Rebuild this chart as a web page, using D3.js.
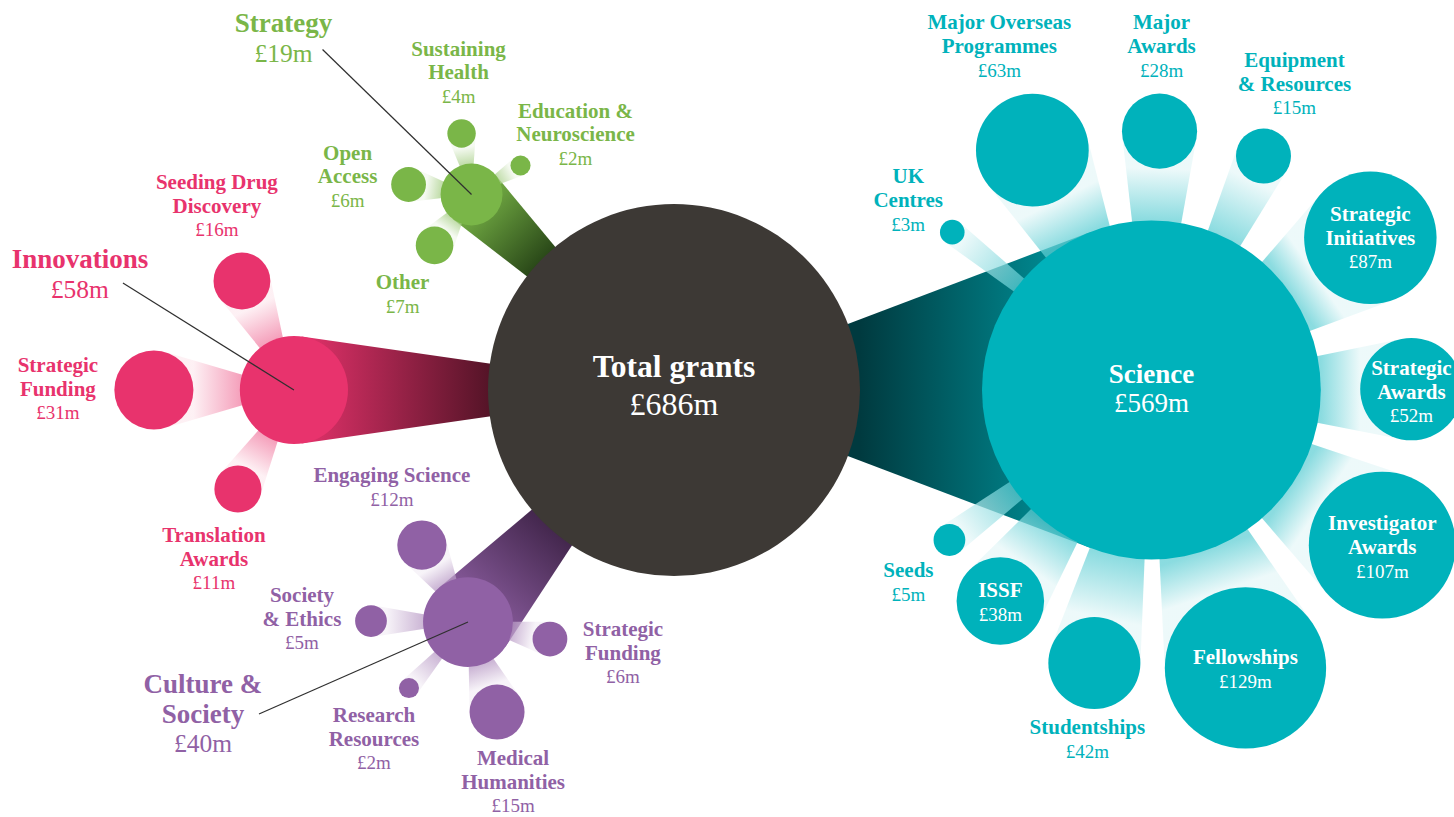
<!DOCTYPE html>
<head>
    <meta charset="utf-8">
    <title>Total grants</title>
    <script src="https://d3js.org/d3.v7.min.js"></script>
</head>
<style>
body {
  margin: 0;
  background: #fff;
  font-family: "Liberation Serif", "DejaVu Serif", serif;
}
</style>
<body>
    <svg></svg>
</body>

<script>

    // Data (£m)
    var totalLabel = "Total grants";
    var totalValue = 686;

    var categories = ["Science", "Innovations", "Strategy", "Culture &\nSociety"];
    var categoryValues = [569, 58, 19, 40];

    var scienceNames = ["Major Overseas\nProgrammes", "Major\nAwards", "Equipment\n& Resources", "Strategic\nInitiatives",
        "Strategic\nAwards", "Investigator\nAwards", "Fellowships", "Studentships", "ISSF", "Seeds", "UK\nCentres"];
    var scienceValues = [63, 28, 15, 87, 52, 107, 129, 42, 38, 5, 3];

    var innovationsNames = ["Strategic\nFunding", "Seeding Drug\nDiscovery", "Translation\nAwards"];
    var innovationsValues = [31, 16, 11];

    var strategyNames = ["Sustaining\nHealth", "Education &\nNeuroscience", "Open\nAccess", "Other"];
    var strategyValues = [4, 2, 6, 7];

    var cultureNames = ["Engaging Science", "Society\n& Ethics", "Research\nResources", "Medical\nHumanities", "Strategic\nFunding"];
    var cultureValues = [12, 5, 2, 15, 6];

    // Styling
    var categoryColors = ["#00b2bb", "#e8336d", "#7ab648", "#9061a5"];
    var categoryDark = ["#003a3f", "#561428", "#2b4a19", "#45284f"];
    var totalColor = "#3d3935";

    // Layout: direction from the parent (degrees), gap between the circles, label offset from the centre
    var categoryLayout = [
        {angle: 0, gap: 122, lx: 0, ly: -7, inside: true},
        {angle: 180, gap: 140, lx: -214, ly: -122, leader: [-171, -107]},
        {angle: -136, gap: 64.5, lx: -188, ly: -162, leader: [-149, -145]},
        {angle: 131.6, gap: 79.4, lx: -265, ly: 71, leader: [-209, 92]}
    ];
    var childLayout = [
        [ // Science
            {angle: -116.4, gap: 42, lx: -33, ly: -121},
            {angle: -88.2, gap: 52, lx: 2, ly: -102},
            {angle: -64.4, gap: 62.5, lx: 31, ly: -89},
            {angle: -34.8, gap: 31, lx: 0, ly: -17, inside: true},
            {angle: -0.2, gap: 39.4, lx: 0, ly: -14, inside: true},
            {angle: 33.9, gap: 35.3, lx: 0, ly: -15, inside: true},
            {angle: 71.3, gap: 43.4, lx: 0, ly: -4, inside: true},
            {angle: 101.8, gap: 63.5, lx: -7, ly: 71},
            {angle: 125.6, gap: 46.3, lx: 0, ly: -4, inside: true},
            {angle: 143.4, gap: 66.3, lx: -41, ly: 37},
            {angle: -141.6, gap: 72.4, lx: -44, ly: -49}
        ],
        [ // Innovations
            {angle: 180, gap: 46.4, lx: -96, ly: -18},
            {angle: -115.5, gap: 38.3, lx: -25, ly: -92},
            {angle: 119.5, gap: 36.1, lx: -24, ly: 53}
        ],
        [ // Strategy
            {angle: -99.3, gap: 16.6, lx: -3, ly: -78},
            {angle: -30.6, gap: 15.9, lx: 55, ly: -48},
            {angle: -171, gap: 15.4, lx: -61, ly: -25},
            {angle: 126, gap: 13.2, lx: -32, ly: 44}
        ],
        [ // Culture & Society
            {angle: -120.9, gap: 20.2, lx: -30, ly: -63},
            {angle: 180.6, gap: 36.2, lx: -69, ly: -19},
            {angle: 131.8, gap: 33.6, lx: -35, ly: 34},
            {angle: 72.1, gap: 22.2, lx: 16, ly: 53},
            {angle: 11.7, gap: 21.4, lx: 73, ly: -3}
        ]
    ];

    var childNames = [scienceNames, innovationsNames, strategyNames, cultureNames];
    var childValues = [scienceValues, innovationsValues, strategyValues, cultureValues];

    var width = 1454;
    var height = 817;

    var svg = d3.select('svg')
        .attr('width', width)
        .attr('height', height);
    var defs = svg.append('defs');

    // Circle area is proportional to the value
    var r = d3.scaleSqrt().domain([0, totalValue]).range([0, 186]);

    var root = {x: 674, y: 390, r: r(totalValue)};

    function place(parent, value, lay) {
        var a = lay.angle * Math.PI / 180;
        var rc = r(value);
        var d = parent.r + lay.gap + rc;
        return {x: parent.x + d * Math.cos(a), y: parent.y + d * Math.sin(a), r: rc, value: value, lay: lay};
    }

    // Build the nodes
    var cats = categories.map(function (name, i) {
        var c = place(root, categoryValues[i], categoryLayout[i]);
        c.name = name;
        c.color = categoryColors[i];
        c.dark = categoryDark[i];
        c.children = childNames[i].map(function (n, j) {
            var k = place(c, childValues[i][j], childLayout[i][j]);
            k.name = n;
            return k;
        });
        return c;
    });

    // Wedge from the parent centre to the tangents of the child circle
    function wedge(p, c) {
        var dx = c.x - p.x, dy = c.y - p.y;
        var d = Math.sqrt(dx * dx + dy * dy);
        var th = Math.atan2(dy, dx);
        var al = Math.asin(c.r / d);
        var L = Math.sqrt(d * d - c.r * c.r);
        var path = d3.path();
        path.moveTo(p.x, p.y);
        path.lineTo(p.x + L * Math.cos(th - al), p.y + L * Math.sin(th - al));
        path.lineTo(c.x, c.y);
        path.lineTo(p.x + L * Math.cos(th + al), p.y + L * Math.sin(th + al));
        path.closePath();
        return path.toString();
    }

    var gid = 0;

    // Main connectors: bright at the category, dark at the total circle
    cats.forEach(function (c) {
        var id = 'g' + (gid++);
        var dx = c.x - root.x, dy = c.y - root.y, d = Math.sqrt(dx * dx + dy * dy);
        var grad = defs.append('linearGradient').attr('id', id)
            .attr('gradientUnits', 'userSpaceOnUse')
            .attr('x1', c.x).attr('y1', c.y)
            .attr('x2', root.x + dx / d * root.r).attr('y2', root.y + dy / d * root.r);
        grad.append('stop').attr('offset', 0).attr('stop-color', c.color);
        grad.append('stop').attr('offset', 1).attr('stop-color', c.dark);
        svg.append('path').attr('d', wedge(root, c)).attr('fill', 'url(#' + id + ')');
    });

    // Child connectors: pale, fading towards the child
    cats.forEach(function (c) {
        c.children.forEach(function (k) {
            var id = 'g' + (gid++);
            var d = Math.sqrt((k.x - c.x) * (k.x - c.x) + (k.y - c.y) * (k.y - c.y));
            var grad = defs.append('linearGradient').attr('id', id)
                .attr('gradientUnits', 'userSpaceOnUse')
                .attr('x1', c.x).attr('y1', c.y)
                .attr('x2', k.x).attr('y2', k.y);
            grad.append('stop').attr('offset', c.r / d).attr('stop-color', d3.interpolateRgb(c.color, '#fff')(0.37));
            grad.append('stop').attr('offset', (d - k.r) / d).attr('stop-color', d3.interpolateRgb(c.color, '#fff')(0.9));
            svg.append('path').attr('d', wedge(c, k))
                .attr('fill', 'url(#' + id + ')')
                .attr('fill-opacity', 0.72);
        });
    });

    // Circles
    svg.append('circle').attr('cx', root.x).attr('cy', root.y).attr('r', root.r).attr('fill', totalColor);
    cats.forEach(function (c) {
        svg.append('circle').attr('cx', c.x).attr('cy', c.y).attr('r', c.r).attr('fill', c.color);
        c.children.forEach(function (k) {
            svg.append('circle').attr('cx', k.x).attr('cy', k.y).attr('r', k.r).attr('fill', c.color);
        });
    });

    // Leader lines from the category labels
    cats.forEach(function (c) {
        if (!c.lay.leader) return;
        svg.append('line')
            .attr('x1', c.x + c.lay.leader[0]).attr('y1', c.y + c.lay.leader[1])
            .attr('x2', c.x).attr('y2', c.y)
            .attr('stroke', '#2f2f2f').attr('stroke-width', 1.2);
    });

    // Labels: bold name lines, then the value
    function label(x, y, name, value, color, size, vsize, lh) {
        var t = svg.append('text').attr('text-anchor', 'middle').attr('fill', color);
        var lines = name.split('\n');
        lines.forEach(function (s, i) {
            t.append('tspan').attr('x', x).attr('y', y + i * lh)
                .attr('font-weight', 'bold').attr('font-size', size).text(s);
        });
        t.append('tspan').attr('x', x).attr('y', y + lines.length * lh)
            .attr('font-size', vsize).text('£' + value + 'm');
    }

    label(root.x, root.y - 13, totalLabel, totalValue, '#fff', 31.5, 32, 38);

    cats.forEach(function (c) {
        if (c.lay.inside) {
            label(c.x + c.lay.lx, c.y + c.lay.ly, c.name, c.value, '#fff', 27, 27, 29);
        } else {
            label(c.x + c.lay.lx, c.y + c.lay.ly, c.name, c.value, c.color, 27, 25.5, 29.5);
        }
        c.children.forEach(function (k) {
            label(k.x + k.lay.lx, k.y + k.lay.ly, k.name, k.value,
                k.lay.inside ? '#fff' : c.color, 21, 19, 23.7);
        });
    });

</script>
